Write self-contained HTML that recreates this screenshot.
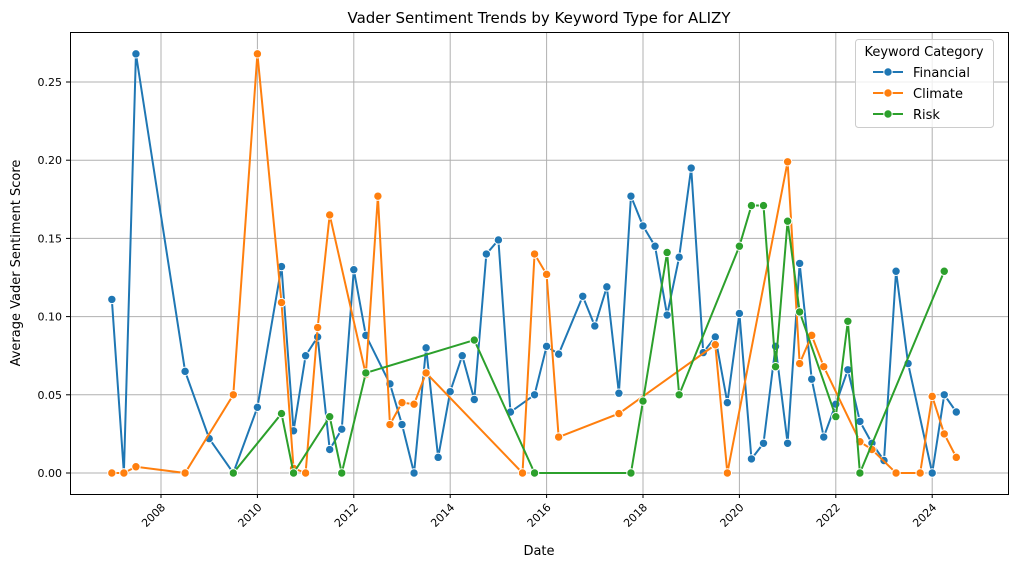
<!DOCTYPE html>
<html><head><meta charset="utf-8"><style>
body{margin:0;background:#fff}
svg text{font-family:"DejaVu Sans","Liberation Sans",sans-serif;fill:#000}
</style></head><body>
<svg id="chart" width="1010" height="568" xmlns="http://www.w3.org/2000/svg">
<rect width="1010" height="568" fill="#fff"/>
<text x="539" y="23" text-anchor="middle" font-size="15">Vader Sentiment Trends by Keyword Type for ALIZY</text>
<g id="grid"></g>
<g id="series"></g>
<rect x="70.5" y="32.5" width="938" height="462" fill="none" stroke="#000" stroke-width="1"/>
<g id="axes"></g>
<text x="539" y="555" text-anchor="middle" font-size="13">Date</text>
<text transform="translate(20,263) rotate(-90)" text-anchor="middle" font-size="13">Average Vader Sentiment Score</text>
<g>
<rect x="855.5" y="39.5" width="138" height="88" rx="3" fill="#fff" fill-opacity="0.8" stroke="#ccc"/>
<text x="924" y="56" text-anchor="middle" font-size="13">Keyword Category</text>
<g id="legend-items"></g>
</g>
</svg>
<script>
const finX=[2006.98,2007.23,2007.48,2008.5,2009.0,2009.5,2010.0,2010.5,2010.75,2011.0,2011.25,2011.5,2011.75,2012.0,2012.25,2012.75,2013.0,2013.25,2013.5,2013.75,2014.0,2014.25,2014.5,2014.75,2015.0,2015.25,2015.75,2016.0,2016.25,2016.75,2017.0,2017.25,2017.5,2017.75,2018.0,2018.25,2018.5,2018.75,2019.0,2019.25,2019.5,2019.75,2020.0,2020.25,2020.5,2020.75,2021.0,2021.25,2021.5,2021.75,2022.0,2022.25,2022.5,2022.75,2023.0,2023.25,2023.5,2024.0,2024.25,2024.5];
const finY=[0.111,0.000,0.268,0.065,0.022,0.000,0.042,0.132,0.027,0.075,0.087,0.015,0.028,0.130,0.088,0.057,0.031,0.000,0.080,0.010,0.052,0.075,0.047,0.140,0.149,0.039,0.050,0.081,0.076,0.113,0.094,0.119,0.051,0.177,0.158,0.145,0.101,0.138,0.195,0.077,0.087,0.045,0.102,0.009,0.019,0.081,0.019,0.134,0.060,0.023,0.044,0.066,0.033,0.019,0.008,0.129,0.070,0.000,0.050,0.039];
const cliX=[2006.98,2007.23,2007.48,2008.5,2009.5,2010.0,2010.5,2010.75,2011.0,2011.25,2011.5,2012.25,2012.5,2012.75,2013.0,2013.25,2013.5,2015.5,2015.75,2016.0,2016.25,2017.5,2019.5,2019.75,2021.0,2021.25,2021.5,2021.75,2022.5,2022.75,2023.25,2023.75,2024.0,2024.25,2024.5];
const cliY=[0,0,0.004,0,0.050,0.268,0.109,0.003,0,0.093,0.165,0.063,0.177,0.031,0.045,0.044,0.064,0,0.140,0.127,0.023,0.038,0.082,0,0.199,0.070,0.088,0.068,0.020,0.015,0,0,0.049,0.025,0.010];
const riskX=[2009.5,2010.5,2010.75,2011.5,2011.75,2012.25,2014.5,2015.75,2017.75,2018.0,2018.5,2018.75,2020.0,2020.25,2020.5,2020.75,2021.0,2021.25,2022.0,2022.25,2022.5,2024.25];
const riskY=[0,0.038,0,0.036,0,0.064,0.085,0,0,0.046,0.141,0.050,0.145,0.171,0.171,0.068,0.161,0.103,0.036,0.097,0,0.129];
const yTicks=[0,0.05,0.10,0.15,0.20,0.25];
const yTickLabels=["0.00","0.05","0.10","0.15","0.20","0.25"];
const xTicks=[2008,2010,2012,2014,2016,2018,2020,2022,2024];
const seriesNames=["Financial","Climate","Risk"];
const colors=["#1f77b4","#ff7f0e","#2ca02c"];
const NS="http://www.w3.org/2000/svg";
const X=y=>161+(y-2008)*48.2;
const Y=v=>473-v*1564;
function mk(tag,attrs,parent){const e=document.createElementNS(NS,tag);for(const k in attrs)e.setAttribute(k,attrs[k]);parent.appendChild(e);return e;}
const grid=document.getElementById('grid'),axes=document.getElementById('axes'),ser=document.getElementById('series');
yTicks.forEach((t,i)=>{const y=Y(t);
 const l=mk('line',{x1:70,x2:1008,y1:y,y2:y,stroke:'#b0b0b0','stroke-width':1},grid);
 
 mk('line',{x1:66,x2:70,y1:y,y2:y,stroke:'#000'},axes);
 const tx=mk('text',{x:62,y:y+4,'text-anchor':'end','font-size':11},axes);tx.textContent=yTickLabels[i];
 });
xTicks.forEach(t=>{const x=X(t);
 const l=mk('line',{x1:x,x2:x,y1:32,y2:494,stroke:'#b0b0b0','stroke-width':1},grid);
 
 mk('line',{x1:x,x2:x,y1:494,y2:498,stroke:'#000'},axes);
 const tx=mk('text',{transform:`translate(${x+5},${508}) rotate(-45)`,'text-anchor':'end','font-size':11},axes);tx.textContent=t;
 });
[[finX,finY],[cliX,cliY],[riskX,riskY]].forEach((s,i)=>{
 const g=mk('g',{},ser);
 const pts=s[0].map((x,j)=>X(x)+','+Y(s[1][j])).join(' ');
 const pl=mk('polyline',{points:pts,fill:'none',stroke:colors[i],'stroke-width':2},g);
 
 s[0].forEach((x,j)=>{const c=mk('circle',{cx:X(x),cy:Y(s[1][j]),r:4.2,fill:colors[i],stroke:'#fff','stroke-width':1},g);
  });});
const li=document.getElementById('legend-items');
seriesNames.forEach((n,i)=>{const y=72+i*21;
 const g=mk('g',{},li);
 mk('line',{x1:873,x2:903,y1:y,y2:y,stroke:colors[i],'stroke-width':2},g);
 mk('circle',{cx:888,cy:y,r:4.2,fill:colors[i],stroke:'#fff','stroke-width':1},g);
 const t=mk('text',{x:913,y:y+5,'font-size':13},g);t.textContent=n;});
</script>
</body></html>
